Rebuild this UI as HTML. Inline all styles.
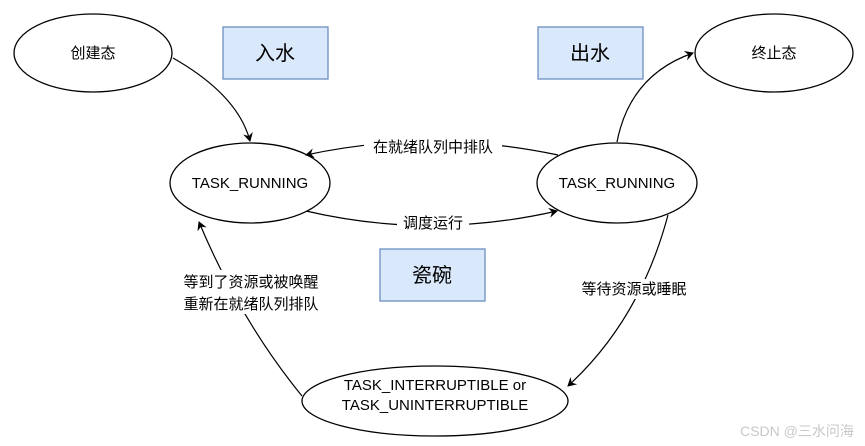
<!DOCTYPE html>
<html><head><meta charset="utf-8"><style>
html,body{margin:0;padding:0;background:#fff;}
svg{display:block;font-family:"Liberation Sans","Noto Sans CJK SC",sans-serif;}
</style></head><body>
<svg width="865" height="446" viewBox="0 0 865 446" xmlns="http://www.w3.org/2000/svg">
<defs><marker id="a" markerWidth="10" markerHeight="10" refX="8" refY="5" orient="auto" markerUnits="userSpaceOnUse"><path d="M0,0 L9,5 L0,10 L3,5 Z" fill="#000"/></marker></defs>
<g fill="#fff" stroke="#000" stroke-width="1.3">
<ellipse cx="93" cy="53" rx="79" ry="39"/>
<ellipse cx="774" cy="53" rx="79" ry="39"/>
<ellipse cx="250" cy="183" rx="80" ry="40"/>
<ellipse cx="617" cy="183" rx="80" ry="40"/>
<ellipse cx="435" cy="401" rx="133" ry="35"/>
</g>
<g fill="#dae8fc" stroke="#6c8ebf" stroke-width="1.3">
<rect x="223" y="27" width="105" height="52"/>
<rect x="538" y="27" width="105" height="52"/>
<rect x="380" y="249" width="105" height="52"/>
</g>
<g fill="none" stroke="#000" stroke-width="1.2" marker-end="url(#a)">
<path d="M173,58 Q238,95 250,141"/>
<path d="M617,142 Q630,75 693,53"/>
<path d="M558,155 Q430,128 306,155"/>
<path d="M306,211 Q430,240 557,211"/>
<path d="M668,215 Q640,320 568,386"/>
<path d="M302,396 Q240,320 199,222"/>
</g>
<g font-size="15" text-anchor="middle" fill="#000">
<text x="93" y="58">创建态</text>
<text x="774" y="58">终止态</text>
<text x="250" y="188">TASK_RUNNING</text>
<text x="617" y="188">TASK_RUNNING</text>
<text x="435" y="390">TASK_INTERRUPTIBLE or</text>
<text x="435" y="410">TASK_UNINTERRUPTIBLE</text>
<text x="275" y="60" font-size="20">入水</text>
<text x="590" y="60" font-size="20">出水</text>
<text x="432" y="282" font-size="20">瓷碗</text>
<rect x="364" y="137" width="138" height="20" fill="#fff"/>
<text x="433" y="152">在就绪队列中排队</text>
<rect x="397" y="213" width="72" height="20" fill="#fff"/>
<text x="433" y="228">调度运行</text>
<rect x="575" y="279" width="120" height="20" fill="#fff"/>
<text x="634" y="294">等待资源或睡眠</text>
<rect x="172" y="270" width="158" height="44" fill="#fff"/>
<text x="251" y="287">等到了资源或被唤醒</text>
<text x="251" y="309">重新在就绪队列排队</text>
<text x="797" y="436" font-size="14" fill="#c8c8c8">CSDN @三水问海</text>
</g>
</svg>
</body></html>
